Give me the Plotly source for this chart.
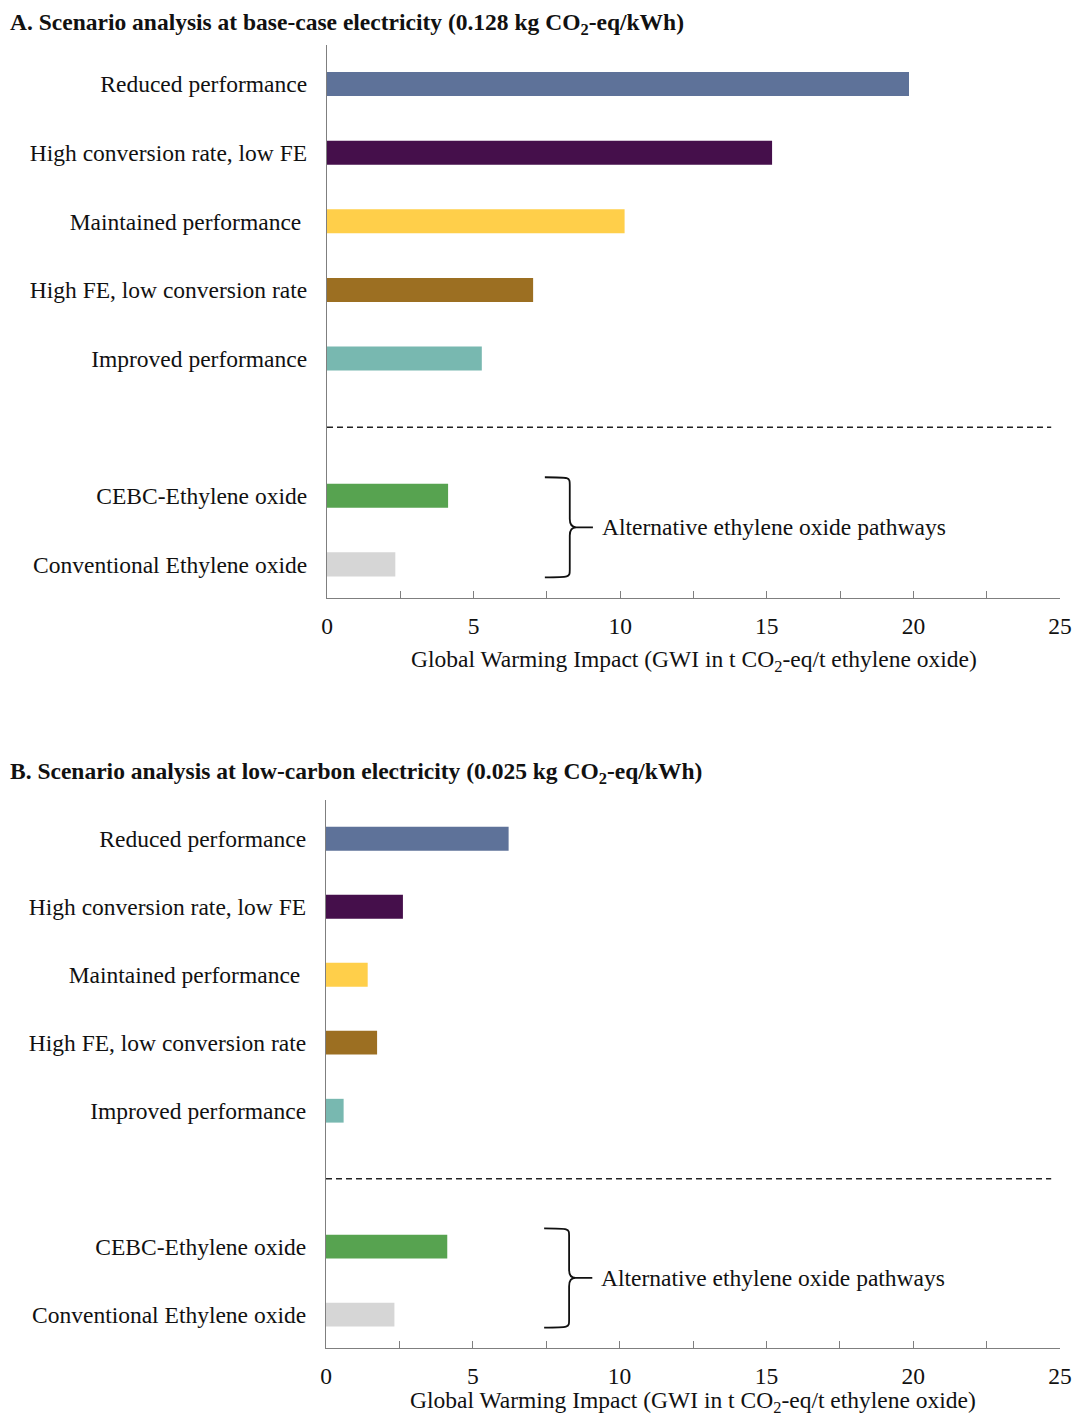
import plotly.graph_objects as go

# Scenario categories (top to bottom) and their slot positions; slot 5 holds the divider
categories = [
    "Reduced performance",
    "High conversion rate, low FE",
    "Maintained performance ",
    "High FE, low conversion rate",
    "Improved performance",
    "CEBC-Ethylene oxide",
    "Conventional Ethylene oxide",
]
slots = [0, 1, 2, 3, 4, 6, 7]
divider_slot = 5

# Global warming impact, t CO2-eq / t ethylene oxide
gwi_base_case = [19.85, 15.18, 10.15, 7.03, 5.28, 4.13, 2.33]
gwi_low_carbon = [6.22, 2.62, 1.42, 1.74, 0.60, 4.13, 2.33]

bar_colors = ["#5e7299", "#450f4b", "#ffcf4a", "#9c6f22", "#78b8b0", "#57a350", "#d6d6d6"]

x_ticks = [0, 5, 10, 15, 20, 25]
panel_titles = [
    "<b>A. Scenario analysis at base-case electricity (0.128 kg CO<sub>2</sub>-eq/kWh)</b>",
    "<b>B. Scenario analysis at low-carbon electricity (0.025 kg CO<sub>2</sub>-eq/kWh)</b>",
]
x_title = "Global Warming Impact (GWI in t CO<sub>2</sub>-eq/t ethylene oxide)"
bracket_label = "Alternative ethylene oxide pathways"

W, H = 1074, 1418
FONT = "Liberation Serif, Times New Roman, serif"
FS = 23.5
AXIS_GRAY = "#7f7f7f"

# plot areas in pixels: (left, right, top, bottom)
areas = [(327, 1060, 45, 598), (326, 1060, 800, 1348)]
title_y = [24, 773]
y_range = [7.49, -0.57]
x_range = [0, 25]

fig = go.Figure()

for i, (vals, area) in enumerate(zip([gwi_base_case, gwi_low_carbon], areas)):
    left, right, top, bottom = area
    xa = "x" if i == 0 else "x2"
    ya = "y" if i == 0 else "y2"
    fig.add_trace(go.Bar(
        x=vals, y=slots, orientation="h", width=0.35,
        marker=dict(color=bar_colors, line=dict(width=0)),
        xaxis=xa, yaxis=ya, showlegend=False, hoverinfo="x+y",
    ))

    xkey = "xaxis" if i == 0 else "xaxis2"
    ykey = "yaxis" if i == 0 else "yaxis2"
    fig.update_layout(**{
        xkey: dict(
            domain=[left / W, right / W], anchor=ya, range=x_range, automargin=False,
            tickvals=x_ticks, ticks="inside", ticklen=7, tickwidth=1, tickcolor=AXIS_GRAY,
            minor=dict(dtick=2.5, tick0=0, ticks="inside", ticklen=7, tickwidth=1, tickcolor=AXIS_GRAY),
            showline=True, linecolor=AXIS_GRAY, linewidth=1.3, showgrid=False, zeroline=False,
            tickfont=dict(family=FONT, size=FS, color="#111"),
            ticklabelstandoff=7,
            fixedrange=True,
        ),
        ykey: dict(
            domain=[1 - bottom / H, 1 - top / H], anchor=xa, range=y_range, automargin=False,
            tickvals=slots, ticktext=categories, ticks="", ticklabelstandoff=14,
            showline=True, linecolor=AXIS_GRAY, linewidth=1.3, showgrid=False, zeroline=False,
            tickfont=dict(family=FONT, size=FS, color="#111"),
            fixedrange=True,
        ),
    })

    # x-axis title, centred under the plot area (kept inside the page)
    title_px = min(bottom + 63, H - 16)
    fig.add_annotation(xref="paper", yref="paper", x=(left + right) / 2 / W,
                       y=1 - title_px / H, text=x_title, showarrow=False,
                       xanchor="center", yanchor="middle",
                       font=dict(family=FONT, size=FS, color="#111"))

    # dashed divider between scenarios and reference pathways
    fig.add_shape(type="line", xref=xa, yref=ya, x0=0, x1=24.7, y0=divider_slot, y1=divider_slot,
                  line=dict(color="#222", width=1.5, dash="6px,4px"))

    # curly bracket grouping the two reference pathways
    xl, xm, xt, xe = 7.43, 8.3, 8.5, 9.07
    ytop, ymid, ybot = 5.73, 6.46, 7.19
    path = (
        f"M {xl} {ytop} C {xm} {ytop} {xm-0.02} {ytop} {xm-0.02} {ytop+0.12} "
        f"L {xm-0.02} {ymid-0.12} C {xm-0.02} {ymid-0.02} {xm+0.1} {ymid} {xt} {ymid} "
        f"L {xe} {ymid} "
        f"M {xt} {ymid} C {xm+0.1} {ymid} {xm-0.02} {ymid+0.02} {xm-0.02} {ymid+0.12} "
        f"L {xm-0.02} {ybot-0.12} C {xm-0.02} {ybot} {xm} {ybot} {xl} {ybot}"
    )
    fig.add_shape(type="path", xref=xa, yref=ya, path=path, line=dict(color="#111", width=1.8))
    fig.add_annotation(xref=xa, yref=ya, x=9.3, y=ymid, text=bracket_label, showarrow=False,
                       xanchor="left", yanchor="middle",
                       font=dict(family=FONT, size=FS, color="#111"))

    # panel heading
    fig.add_annotation(xref="paper", yref="paper", x=8 / W, y=1 - title_y[i] / H,
                       text=panel_titles[i], showarrow=False, xanchor="left", yanchor="middle",
                       font=dict(family=FONT, size=23.5, color="#111"))

fig.update_layout(
    width=W, height=H, margin=dict(l=0, r=0, t=0, b=0),
    paper_bgcolor="white", plot_bgcolor="white", bargap=0.65,
)

fig.write_html("out.html")
